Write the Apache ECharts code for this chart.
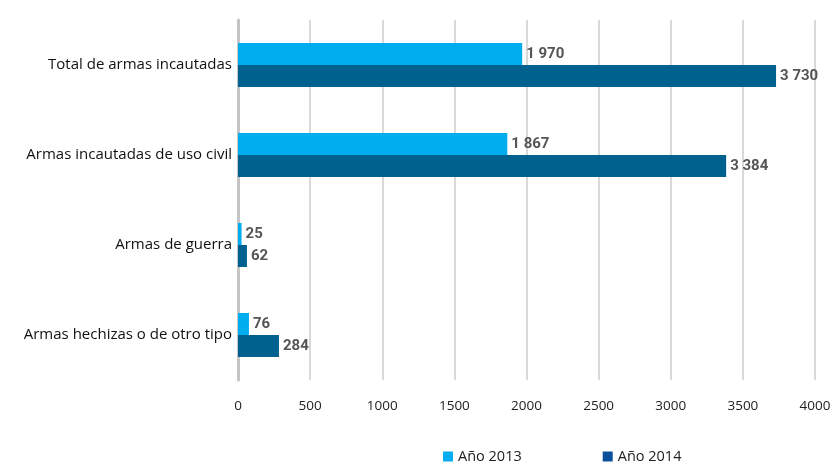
<!DOCTYPE html>
<html><head><meta charset="utf-8">
<script src="https://cdn.jsdelivr.net/npm/echarts@6/dist/echarts.min.js"></script>
<style>html,body{margin:0;padding:0;background:#fff}#c{width:836px;height:465px}</style>
</head><body><div id="c"></div>
<script>
const categories = ["Total de armas incautadas", "Armas incautadas de uso civil", "Armas de guerra", "Armas hechizas o de otro tipo"];
const values2013 = [1970, 1867, 25, 76];
const values2014 = [3730, 3384, 62, 284];
const seriesNames = ["Año 2013", "Año 2014"];

const fmt = v => String(v).replace(/\B(?=(\d{3})+(?!\d))/g, ' ');
const chart = echarts.init(document.getElementById('c'));
const labelCfg = {
  show: true, position: 'right', distance: 4,
  fontFamily: '"Liberation Sans Narrow", Roboto, sans-serif',
  fontWeight: 'bold', fontSize: 15, color: '#555',
  formatter: p => fmt(p.value)
};
chart.setOption({
  animation: false,
  grid: { left: 238, right: 21, top: 20, height: 360, containLabel: false },
  legend: {
    top: 449, left: 443, padding: 0, itemWidth: 10, itemHeight: 10, itemGap: 81, icon: 'rect',
    textStyle: { fontFamily: 'Open Sans, sans-serif', fontSize: 14.5, color: '#222' },
    data: [
      { name: seriesNames[0], itemStyle: { color: '#00AEEF' } },
      { name: seriesNames[1], itemStyle: { color: '#0A4F9A' } }
    ]
  },
  xAxis: {
    type: 'value', min: 0, max: 4000, interval: 500,
    axisLine: { show: false },
    axisTick: { show: false },
    splitLine: { lineStyle: { color: '#cccccc', width: 1.5 } },
    axisLabel: { fontFamily: 'Open Sans, sans-serif', fontSize: 13.5, color: '#222', margin: 19,
      formatter: v => String(v) }
  },
  yAxis: {
    type: 'category', data: categories, inverse: true,
    axisLine: { show: true, lineStyle: { color: '#c4c4c4', width: 3 } },
    axisTick: { show: false },
    axisLabel: { fontFamily: 'Open Sans, sans-serif', fontSize: 15, color: '#111', margin: 6 }
  },
  series: [
    { name: seriesNames[0], type: 'bar', data: values2013, barWidth: 22, barGap: '0%',
      itemStyle: { color: '#00AEEF' }, label: labelCfg },
    { name: seriesNames[1], type: 'bar', data: values2014, barWidth: 22, barGap: '0%',
      itemStyle: { color: '#00618F' }, label: labelCfg }
  ]
});
</script></body></html>
